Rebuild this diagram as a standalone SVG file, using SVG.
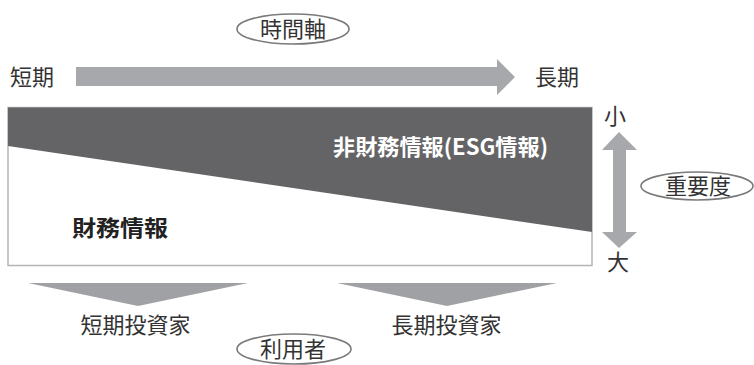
<svg xmlns="http://www.w3.org/2000/svg" width="754" height="365" viewBox="0 0 754 365">
<style>
.t{font-family:"Noto Sans CJK JP","Noto Sans",sans-serif;fill:#333;font-size:22px}
.lbl{fill:#fff;stroke:#7a7a7a;stroke-width:1.6}
.arrow{fill:#a7a8ab}
</style>
<rect width="754" height="365" fill="#fff"/>
<g id="time-label">
<ellipse class="lbl" cx="293" cy="29" rx="56" ry="15"/>
<text class="t" x="293" y="37" text-anchor="middle" font-size="21">時間軸</text>
</g>
<g id="short">
<text class="t" x="10" y="85">短期</text>
</g>
<g id="long">
<text class="t" x="535" y="85">長期</text>
</g>
<g id="matrix">
<rect x="8" y="107.5" width="584" height="158" fill="#fff" stroke="#b5b5b5" stroke-width="1.5"/>
<polygon points="8,107.5 592,107.5 592,232 8,146" fill="#646466"/>
<text class="t" x="333" y="155" font-size="21" font-weight="bold" fill="#fff" style="fill:#fff" textLength="215" lengthAdjust="spacingAndGlyphs">非財務情報(ESG情報)</text>
<text class="t" x="72" y="236" font-size="23" font-weight="bold" style="fill:#222" textLength="96" lengthAdjust="spacingAndGlyphs">財務情報</text>
</g>
<g id="importance">
<text class="t" x="615" y="124" text-anchor="middle" font-size="19">小</text>
<text class="t" x="618" y="270" text-anchor="middle">大</text>
<ellipse class="lbl" cx="697" cy="186" rx="56" ry="14"/>
<text class="t" x="698" y="194" text-anchor="middle" font-size="21">重要度</text>
</g>
<g id="short-investor">
<text class="t" x="135.5" y="333" text-anchor="middle" font-size="23">短期投資家</text>
</g>
<g id="long-investor">
<text class="t" x="446.5" y="333" text-anchor="middle" font-size="23">長期投資家</text>
</g>
<g id="user-label">
<ellipse class="lbl" cx="294" cy="349" rx="57" ry="15"/>
<text class="t" x="293" y="357" text-anchor="middle">利用者</text>
</g>
<g id="connectors">
<polygon class="arrow" points="76,67 497,67 497,59 515,77 497,95 497,86 76,86"/>
<polygon class="arrow" points="619,132 637,150 626,150 626,232 637,232 619,248 602,232 613,232 613,150 602,150"/>
<polygon points="28,283 248,283 138,306" fill="#a0a1a4"/>
<polygon points="337,283 557,283 447,306" fill="#a0a1a4"/>
</g>
</svg>
